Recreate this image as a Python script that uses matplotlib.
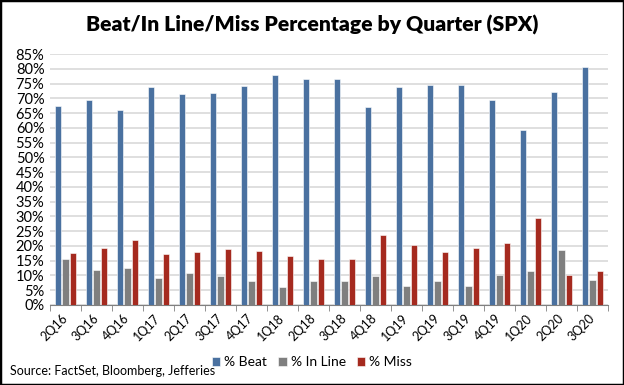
import matplotlib
matplotlib.use("Agg")
import matplotlib.pyplot as plt
import numpy as np
from matplotlib.ticker import MultipleLocator, FuncFormatter
from matplotlib.patches import Rectangle

quarters = ["2Q16", "3Q16", "4Q16", "1Q17", "2Q17", "3Q17", "4Q17", "1Q18", "2Q18",
            "3Q18", "4Q18", "1Q19", "2Q19", "3Q19", "4Q19", "1Q20", "2Q20", "3Q20"]
beat = [67.3, 69.3, 66.0, 73.8, 71.4, 71.9, 74.1, 78.0, 76.6,
        76.6, 67.2, 73.8, 74.5, 74.5, 69.4, 59.4, 72.0, 80.6]
inline = [15.5, 11.8, 12.4, 9.1, 10.8, 9.8, 8.1, 6.1, 8.1,
          8.1, 9.7, 6.3, 8.1, 6.5, 10.0, 11.5, 18.5, 8.6]
miss = [17.6, 19.3, 21.9, 17.4, 18.1, 18.9, 18.3, 16.5, 15.6,
        15.6, 23.6, 20.2, 18.1, 19.3, 21.1, 29.5, 10.1, 11.4]

plt.rcParams['font.family'] = ['Lato', 'DejaVu Sans']

fig = plt.figure(figsize=(6.24, 3.85), dpi=100)
ax = fig.add_axes([50/624, 1-305/385, (608-50)/624, (305-54)/385])

x = np.arange(len(quarters))
w = 0.2
off = 0.245
c_beat = "#4A71A0"
c_in = "#7F7F7F"
c_miss = "#A52A1F"
ax.bar(x - off, beat, w, color=c_beat, edgecolor="white", linewidth=0.4, label="% Beat", zorder=3)
ax.bar(x, inline, w, color=c_in, edgecolor="white", linewidth=0.4, label="% In Line", zorder=3)
ax.bar(x + off, miss, w, color=c_miss, edgecolor="white", linewidth=0.4, label="% Miss", zorder=3)

ax.set_xlim(-0.5, len(quarters) - 0.5)
ax.set_ylim(0, 85)
ax.yaxis.set_major_locator(MultipleLocator(5))
ax.yaxis.set_major_formatter(FuncFormatter(lambda v, p: f"{v:.0f}%"))
ax.grid(axis="y", color="#D9D9D9", linewidth=1.2, zorder=0)
ax.set_axisbelow(True)
for s in ["top", "right", "left"]:
    ax.spines[s].set_visible(False)
ax.spines["bottom"].set_color("#808080")
ax.tick_params(axis="y", length=0, labelsize=10.5, pad=4)
ax.set_xticks(x)
ax.set_xticklabels(quarters, rotation=45, ha="center", fontsize=9)
ax.set_xticks(np.arange(-0.5, len(quarters)), minor=True)
ax.tick_params(axis="x", which="major", length=0, pad=8)
ax.tick_params(axis="x", which="minor", length=4, color="#808080")
for lbl in ax.get_xticklabels():
    lbl.set_rotation_mode("anchor")
    lbl.set_ha("right")
    lbl.set_va("center")

fig.suptitle("Beat/In Line/Miss Percentage by Quarter (SPX)", x=0.5, y=1-25/385,
             va="center", fontsize=15.2, fontweight="heavy")

leg = fig.legend(loc="center", bbox_to_anchor=(312/624, 1-362/385), ncol=3, frameon=False,
                 fontsize=10, handlelength=0.6, handleheight=0.6, handletextpad=0.3,
                 columnspacing=0.8)
fig.text(10/624, 1-371/385, "Source: FactSet, Bloomberg, Jefferies", fontsize=9,
         ha="left", va="center")

fig.patches.append(Rectangle((0, 0), 1, 1, transform=fig.transFigure, fill=False,
                             edgecolor="black", linewidth=2.5))

fig.savefig("out.png", dpi=100)
